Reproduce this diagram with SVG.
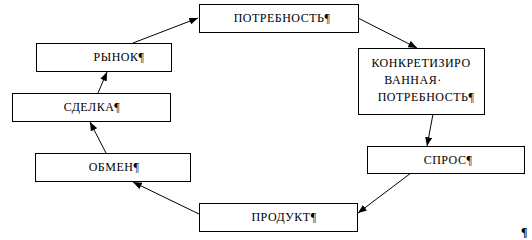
<svg xmlns="http://www.w3.org/2000/svg" width="532" height="240" viewBox="0 0 532 240">
<defs>
<style>
.box{fill:#fff;stroke:#000;stroke-width:1}
.t{font-family:"Liberation Serif","Times New Roman",serif;font-size:12px;letter-spacing:0.5px;fill:#000}
.c{text-anchor:middle}
.ln{stroke:#000;stroke-width:1;fill:none;marker-end:url(#ah)}
</style>
<marker id="ah" viewBox="0 0 10 8" refX="10" refY="4" markerWidth="9" markerHeight="7" markerUnits="userSpaceOnUse" orient="auto">
<path d="M0,0 L10,4 L0,8 Z" fill="#000"/>
</marker>
</defs>
<rect width="532" height="240" fill="#fff"/>
<g id="connectors">
<line class="ln" x1="199" y1="214" x2="133" y2="182"/>
<line class="ln" x1="106" y1="153" x2="90" y2="122"/>
<line class="ln" x1="98" y1="93" x2="107" y2="72"/>
<line class="ln" x1="133" y1="43" x2="198" y2="18"/>
<line class="ln" x1="358" y1="18" x2="417" y2="48"/>
<line class="ln" x1="433" y1="114" x2="427" y2="146"/>
<line class="ln" x1="411" y1="173" x2="358" y2="213"/>
</g>
<g id="potrebnost">
<rect class="box" x="199.5" y="4.5" width="159" height="28"/>
<text class="t c" x="282" y="22">ПОТРЕБНОСТЬ¶</text>
</g>
<g id="konkret">
<rect class="box" x="358.5" y="48.5" width="126" height="66"/>
<text class="t c" x="421" y="67">КОНКРЕТИЗИРО</text>
<text class="t c" x="413" y="84">ВАННАЯ·</text>
<text class="t c" x="426" y="101">ПОТРЕБНОСТЬ¶</text>
</g>
<g id="spros">
<rect class="box" x="367.5" y="146.5" width="157" height="27"/>
<text class="t c" x="448" y="164">СПРОС¶</text>
</g>
<g id="produkt">
<rect class="box" x="199.5" y="203.5" width="158" height="28"/>
<text class="t c" x="284" y="221">ПРОДУКТ¶</text>
</g>
<g id="obmen">
<rect class="box" x="35.5" y="153.5" width="155" height="28"/>
<text class="t c" x="114" y="171">ОБМЕН¶</text>
</g>
<g id="sdelka">
<rect class="box" x="12.5" y="93.5" width="158" height="28"/>
<text class="t c" x="92" y="111">СДЕЛКА¶</text>
</g>
<g id="rynok">
<rect class="box" x="36.5" y="43.5" width="135" height="28"/>
<text class="t c" x="119" y="61">РЫНОК¶</text>
</g>
<text class="t" x="521" y="236" style="font-weight:bold">¶</text>
</svg>
